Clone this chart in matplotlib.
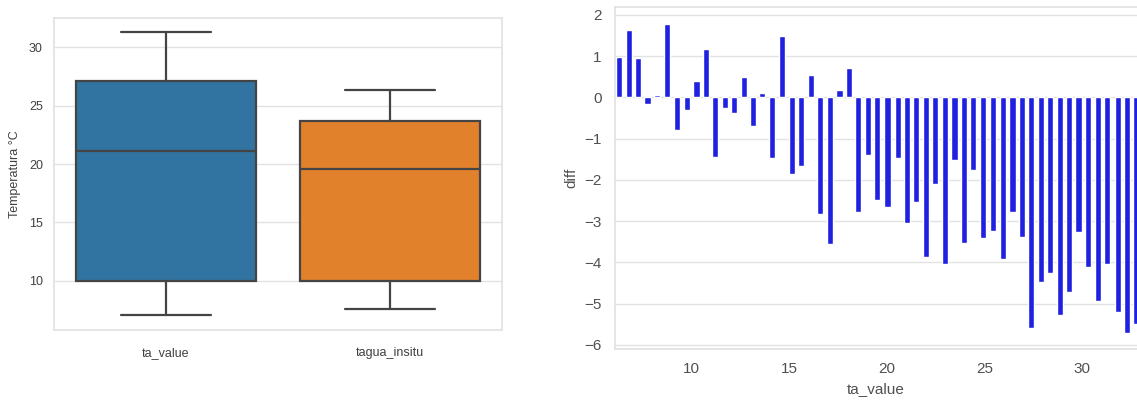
import matplotlib
matplotlib.use("Agg")
import matplotlib.pyplot as plt
import seaborn as sns

sns.set_theme(style="whitegrid")
plt.rcParams['font.family'] = ['Liberation Sans', 'DejaVu Sans']
plt.rcParams['grid.color'] = '#e2e2e2'

# box summaries (whislo, q1, med, q3, whishi) in degrees C
series_names = ["ta_value", "tagua_insitu"]
whislo = [7.12, 7.58]
q1 = [10.0, 10.0]
med = [21.15, 19.55]
q3 = [27.14, 23.72]
whishi = [31.28, 26.32]
box_colors = ["#3274a1", "#e1812c"]

# diff between air temperature and water temperature by ta_value
ta_value = [6.26, 6.77, 7.25, 7.73, 8.21, 8.74, 9.26, 9.74, 10.24, 10.72,
            11.19, 11.69, 12.17, 12.66, 13.14, 13.61, 14.11, 14.62, 15.14, 15.61,
            16.09, 16.58, 17.08, 17.56, 18.04, 18.52, 19.01, 19.49, 20.02, 20.55,
            21.02, 21.50, 22.00, 22.47, 22.95, 23.45, 23.94, 24.42, 24.90, 25.41,
            25.92, 26.42, 26.90, 27.39, 27.87, 28.35, 28.84, 29.32, 29.80, 30.29,
            30.80, 31.28, 31.81, 32.29, 32.77]
diff = [0.99, 1.64, 0.95, -0.15, 0.05, 1.78, -0.80, -0.30, 0.39, 1.18,
        -1.44, -0.27, -0.38, 0.49, -0.69, 0.11, -1.48, 1.49, -1.86, -1.67,
        0.53, -2.82, -3.55, 0.19, 0.72, -2.78, -1.40, -2.48, -2.66, -1.48,
        -3.04, -2.54, -3.87, -2.11, -4.03, -1.53, -3.54, -1.75, -3.42, -3.23,
        -3.91, -2.77, -3.38, -5.58, -4.48, -4.25, -5.28, -4.71, -3.27, -4.11,
        -4.94, -4.03, -5.21, -5.71, -5.50]

fig = plt.figure(figsize=(11.37, 4.0), dpi=100)

# left: boxplot of both temperature series
ax1 = fig.add_axes([54 / 1137, 70 / 400, 448 / 1137, 312 / 400])
stats = []
for i, name in enumerate(series_names):
    stats.append(dict(label=name, whislo=whislo[i], q1=q1[i], med=med[i],
                      q3=q3[i], whishi=whishi[i], fliers=[]))
line_kw = dict(color="#444444", linewidth=1.6)
bp = ax1.bxp(stats, positions=[0, 1], widths=0.8, patch_artist=True,
             boxprops=dict(edgecolor="#444444", linewidth=1.6),
             medianprops=line_kw, whiskerprops=line_kw, capprops=line_kw)
for patch, c in zip(bp["boxes"], box_colors):
    patch.set_facecolor(c)
ax1.set_xlim(-0.5, 1.5)
ax1.set_ylim(5.8, 32.5)
ax1.set_yticks([10, 15, 20, 25, 30])
ax1.set_ylabel("Temperatura °C", fontsize=9, color="#404040", labelpad=6)
ax1.tick_params(labelsize=9, colors="#404040", length=0, pad=8)
ax1.tick_params(axis="x", pad=12)
ax1.grid(axis="x", visible=False)
for s in ax1.spines.values():
    s.set_color("#e2e2e2")

# right: bar chart of diff
ax2 = fig.add_axes([615 / 1137, 51 / 400, 522 / 1137, 342 / 400])
ax2.bar(ta_value, diff, width=0.32, color="#2020e0")
ax2.set_xlim(6.07, 32.8)
ax2.set_ylim(-6.1, 2.19)
ax2.set_xticks([10, 15, 20, 25, 30])
ax2.set_yticks([-6, -5, -4, -3, -2, -1, 0, 1, 2])
ax2.set_xlabel("ta_value", fontsize=11, color="#505050", labelpad=4)
ax2.set_ylabel("diff", fontsize=11, color="#505050")
ax2.tick_params(labelsize=11, colors="#505050")
ax2.grid(axis="x", visible=False)
ax2.spines["right"].set_visible(False)
for s in ax2.spines.values():
    s.set_color("#e2e2e2")

fig.savefig("out.png", dpi=100)
